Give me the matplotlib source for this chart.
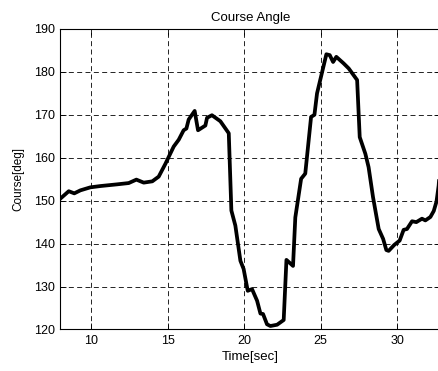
import matplotlib
matplotlib.use('Agg')
import matplotlib.pyplot as plt

# 读自参考图的轨迹点 (时间, 航向角)
time_sec = [8.0, 8.54, 8.9, 9.3, 9.95, 10.6, 11.7, 12.46, 12.96, 13.44, 14.0, 14.42,
            14.86, 15.4, 15.73, 16.05, 16.23, 16.38, 16.77, 16.99, 17.47, 17.58, 17.9,
            18.45, 19.0, 19.17, 19.43, 19.76, 19.97, 20.24, 20.52, 20.85, 21.07, 21.24,
            21.5, 21.72, 22.16, 22.59, 22.77, 23.2, 23.35, 23.73, 24.0, 24.38, 24.6,
            24.77, 25.38, 25.6, 25.82, 26.03, 26.5, 26.84, 27.39, 27.56, 27.93, 28.14,
            28.43, 28.8, 29.09, 29.3, 29.45, 29.82, 30.17, 30.43, 30.65, 30.98, 31.26,
            31.63, 31.85, 32.18, 32.4, 32.58, 32.72, 32.86]
course_deg = [150.5, 152.2, 151.7, 152.4, 153.1, 153.4, 153.8, 154.1, 154.9, 154.2,
              154.5, 155.6, 158.6, 162.6, 164.2, 166.4, 166.8, 168.9, 170.9, 166.4,
              167.5, 169.3, 169.9, 168.5, 165.7, 147.7, 144.2, 136.0, 134.1, 129.0,
              129.4, 126.7, 123.7, 123.6, 121.2, 120.8, 121.1, 122.2, 136.2, 134.8,
              146.1, 155.1, 156.3, 169.5, 170.0, 175.0, 184.1, 183.9, 182.3, 183.5,
              182.0, 180.8, 178.1, 164.8, 160.9, 157.8, 150.8, 143.4, 141.1, 138.5,
              138.3, 139.7, 140.7, 143.2, 143.4, 145.2, 145.0, 145.8, 145.4, 146.2,
              147.6, 149.8, 153.5, 160.0]

x_ticks = [10, 15, 20, 25, 30]
y_ticks = [120, 130, 140, 150, 160, 170, 180, 190]

plt.rcParams['font.family'] = ['Liberation Sans', 'DejaVu Sans']

fig = plt.figure(figsize=(4.39, 3.71), dpi=100)
# 右边框在原图中被裁掉，所以坐标区伸出画布右缘
ax = fig.add_axes([0.1378, 0.112, 0.8656, 0.810])
ax.plot(time_sec, course_deg, color='black', linewidth=2.7, solid_joinstyle='round')

ax.set_xlim(8, 32.84)
ax.set_ylim(120, 190)
ax.set_xticks(x_ticks)
ax.set_yticks(y_ticks)
ax.tick_params(direction='in', labelsize=9, top=True, right=True, length=4, width=0.6, pad=4)
ax.grid(True, color='black', linestyle=(0, (6, 4)), linewidth=0.6)
for s in ax.spines.values():
    s.set_linewidth(0.8)

ax.set_title('Course Angle', fontsize=9.5, pad=6)
ax.set_xlabel('Time[sec]', fontsize=9.5, labelpad=3)
ax.set_ylabel('Course[deg]', fontsize=8.5, labelpad=7)

plt.savefig('out.png', dpi=100)
plt.close()
